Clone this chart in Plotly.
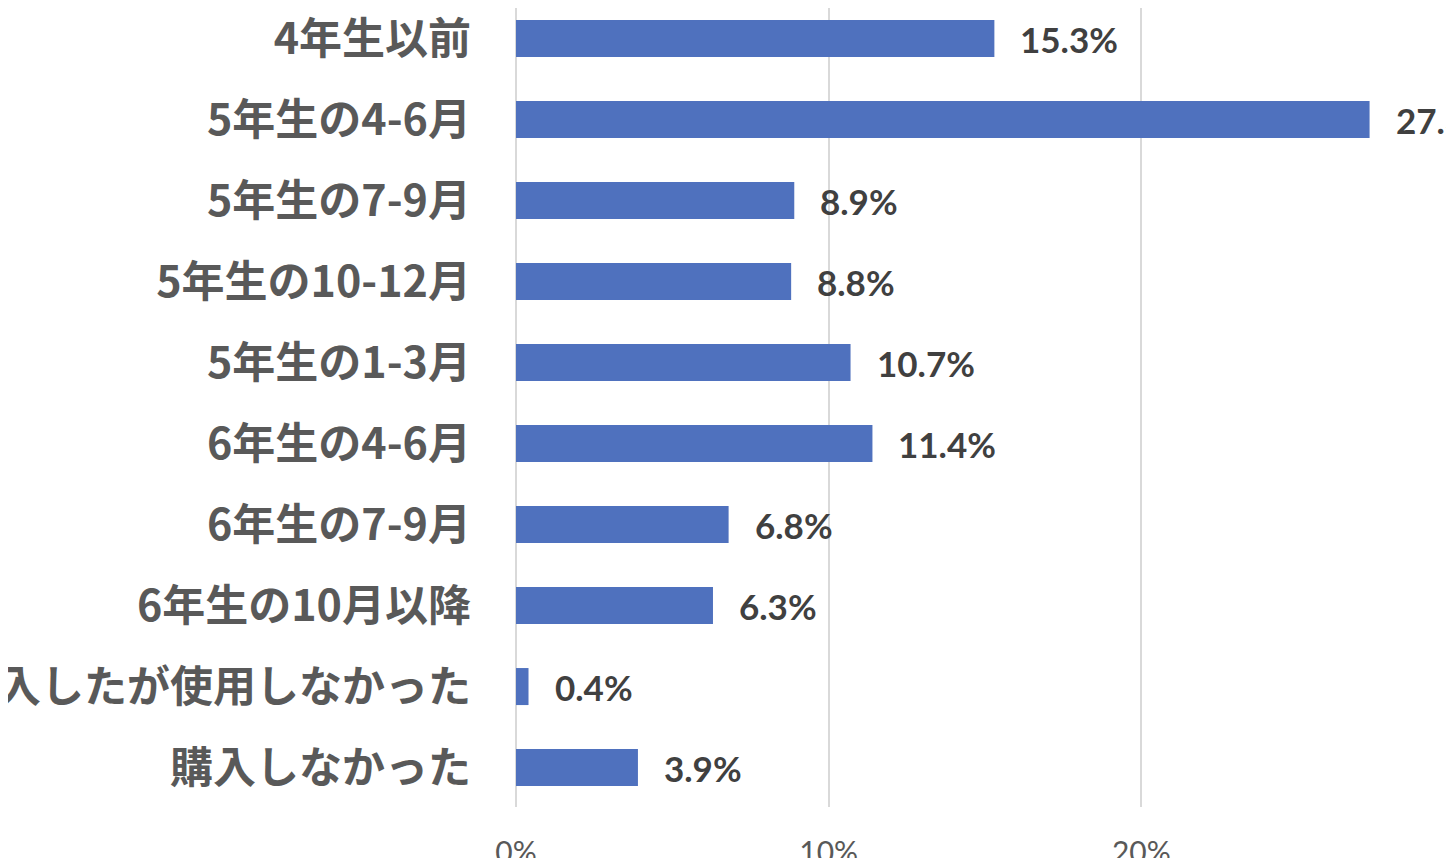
import plotly.graph_objects as go

categories = ["4年生以前", "5年生の4-6月", "5年生の7-9月", "5年生の10-12月", "5年生の1-3月",
              "6年生の4-6月", "6年生の7-9月", "6年生の10月以降", "購入したが使用しなかった", "購入しなかった"]
values = [15.3, 27.3, 8.9, 8.8, 10.7, 11.4, 6.8, 6.3, 0.4, 3.9]
tick_vals = [0, 10, 20, 30]
tick_text = ["0%", "10%", "20%", "30%"]
labels = [f"{v:.1f}%" for v in values]

BAR = "#4F71BE"
fig = go.Figure()
fig.add_trace(go.Bar(
    x=values, y=categories, orientation="h",
    marker=dict(color=BAR, line=dict(width=0)),
    width=0.457, hoverinfo="skip",
))

for c, v, t in zip(categories, values, labels):
    fig.add_annotation(x=v, y=c, text=t, showarrow=False, xanchor="left", yanchor="middle",
                       xshift=24, font=dict(family="Lato, Noto Sans CJK JP", size=35, color="#404040",
                                            weight="bold"))

fig.update_layout(
    width=1446, height=850,
    margin=dict(l=508, r=0, t=0, b=51),
    paper_bgcolor="white", plot_bgcolor="white",
    showlegend=False,
    xaxis=dict(range=[0, 30], tickvals=tick_vals, ticktext=tick_text,
               showgrid=True, gridcolor="#D9D9D9", gridwidth=2,
               zeroline=True, zerolinecolor="#D9D9D9", zerolinewidth=2,
               showline=False, ticks="", ticklabelstandoff=25,
               tickfont=dict(family="Lato, Noto Sans CJK JP", size=30, color="#595959"),
               automargin=False, fixedrange=True),
    yaxis=dict(categoryorder="array", categoryarray=categories, range=[9.487, -0.377],
               showgrid=False, zeroline=False, showline=False, ticks="",
               ticklabelstandoff=44,
               tickfont=dict(family="Liberation Sans Narrow, Noto Sans CJK JP", size=43,
                             color="#595959", weight="bold"),
               automargin=False, fixedrange=True),
)

fig.write_html("out.html", config={"displayModeBar": False})
